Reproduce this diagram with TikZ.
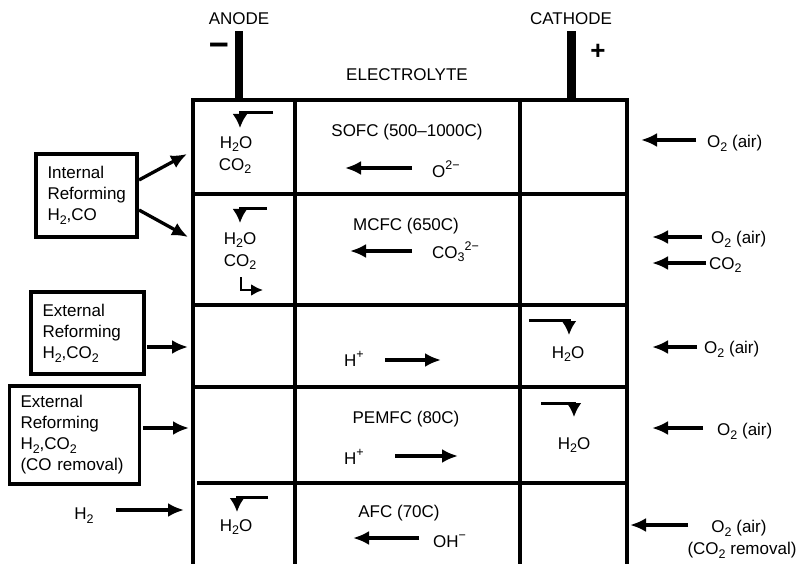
\documentclass[tikz,border=0pt]{standalone}
\usepackage{fontspec}
\setmainfont{Liberation Sans}
\usetikzlibrary{arrows.meta}
\newcommand\sbs[1]{\raisebox{-0.22em}{\fontsize{12.5}{12.5}\selectfont #1}}
\newcommand\sps[1]{\raisebox{0.45em}{\fontsize{12.5}{12.5}\selectfont #1}}
\begin{document}
\begin{tikzpicture}[x=1pt,y=-1pt,
  every node/.style={font=\fontsize{17}{21}\selectfont, inner sep=0pt},
  grid/.style={line width=3.3pt},
  arr/.style={line width=3.3pt, -{Latex[length=16pt,width=14pt]}},
  hook/.style={line width=3pt, -{Latex[length=14pt,width=15pt]}},
  fbox/.style={draw, line width=3.3pt, align=left, inner xsep=10pt},
  elec/.style={fill=black}]
\useasboundingbox (0,0) rectangle (803,564);
% grid
\draw[grid] (193,564) -- (193,100) -- (627,100) -- (627,564);
\draw[grid] (295,100) -- (295,564);
\draw[grid] (520,100) -- (520,564);
\draw[grid] (193,194) -- (627,194);
\draw[grid] (193,305) -- (627,305);
\draw[grid] (193,387) -- (627,387);
\draw[grid] (197,483) -- (627,483);
% electrodes
\fill[elec] (235,31) rectangle (243,100);
\fill[elec] (567,31) rectangle (576,100);
\node (anode) at (239,19) {ANODE};
\node (cathode) at (571,19) {CATHODE};
\node[anchor=base] (minus) at (219,56) {\smash{\scalebox{1.35}[1.5]{\fontsize{26}{26}\selectfont\bfseries –}}};
\node (plus) at (598,52) {\fontsize{26}{26}\selectfont\bfseries +};
\node (electrolyte) at (407,75) {ELECTROLYTE};
% row 1 SOFC
\coordinate (h1a) at (273,113); \coordinate (h1b) at (240,113); \coordinate (h1c) at (240,128);
\draw[hook] (h1a) -- (h1b) -- (h1c);
\node (w1) at (236,144) {H\sbs{2}O};
\node (c1) at (235,166) {CO\sbs{2}};
\node (sofc) at (407,132) {SOFC (500–1000C)};
\node[anchor=west] (o2m) at (432,169) {O\sps{2−}};
\coordinate (s1a) at (412,168); \coordinate (s1b) at (345,168);
\draw[arr] (s1a) -- (s1b);
\coordinate (r1a) at (696,140); \coordinate (r1b) at (641,140);
\draw[arr] (r1a) -- (r1b);
\node[anchor=west] (air1) at (707,143) {O\sbs{2} (air)};
% row 2 MCFC
\coordinate (h2a) at (267,209); \coordinate (h2b) at (240,209); \coordinate (h2c) at (240,223);
\draw[hook] (h2a) -- (h2b) -- (h2c);
\node (w2) at (240,240) {H\sbs{2}O};
\node (c2) at (240,262) {CO\sbs{2}};
\coordinate (l2a) at (241,277); \coordinate (l2b) at (241,290); \coordinate (l2c) at (263,290);
\draw[line width=2.8pt, -{Latex[length=12pt,width=12pt]}] (l2a) -- (l2b) -- (l2c);
\node (mcfc) at (406,226) {MCFC (650C)};
\coordinate (s2a) at (412,251); \coordinate (s2b) at (350,251);
\draw[arr] (s2a) -- (s2b);
\node[anchor=west] (co3) at (432,252) {CO\sbs{3}\sps{2−}};
\coordinate (r2a) at (702,237); \coordinate (r2b) at (652,237);
\draw[arr] (r2a) -- (r2b);
\node[anchor=west] (air2) at (711,239) {O\sbs{2} (air)};
\coordinate (r2c) at (706,263); \coordinate (r2d) at (652,263);
\draw[arr] (r2c) -- (r2d);
\node[anchor=west] (co2r) at (709,265) {CO\sbs{2}};
% internal reforming
\node[fbox, minimum width=101pt, minimum height=83pt, text width=78pt] (intref) at (86.5,195.5) {Internal\\Reforming\\H\sbs{2},CO};
\coordinate (ia) at (139,180); \coordinate (ib) at (187,154);
\coordinate (ic) at (139,210); \coordinate (id) at (188,237);
\draw[arr] (ia) -- (ib);
\draw[arr] (ic) -- (id);
% row 3
\node[fbox, minimum width=113pt, minimum height=82pt, text width=90pt] (extref1) at (87.5,333) {External\\Reforming\\H\sbs{2},CO\sbs{2}};
\coordinate (e1a) at (147,347); \coordinate (e1b) at (188,347);
\draw[arr] (e1a) -- (e1b);
\node (hp1) at (354,359) {H\sps{+}};
\coordinate (p1a) at (385,360); \coordinate (p1b) at (441,360);
\draw[arr] (p1a) -- (p1b);
\coordinate (h3a) at (529,320); \coordinate (h3b) at (569,320); \coordinate (h3c) at (569,335);
\draw[hook] (h3a) -- (h3b) -- (h3c);
\node (w3) at (568,354) {H\sbs{2}O};
\coordinate (r3a) at (697,347); \coordinate (r3b) at (652,347);
\draw[arr] (r3a) -- (r3b);
\node[anchor=west] (air3) at (704,349) {O\sbs{2} (air)};
% row 4 PEMFC
\node[fbox, minimum width=130pt, minimum height=98pt, text width=108pt] (extref2) at (74.5,435) {External\\Reforming\\H\sbs{2},CO\sbs{2}\\(CO removal)};
\coordinate (e2a) at (143,428); \coordinate (e2b) at (189,428);
\draw[arr] (e2a) -- (e2b);
\node (pemfc) at (406,419) {PEMFC (80C)};
\node (hp2) at (354,457) {H\sps{+}};
\coordinate (p2a) at (395,456); \coordinate (p2b) at (458,456);
\draw[arr] (p2a) -- (p2b);
\coordinate (h4a) at (541,403); \coordinate (h4b) at (574,403); \coordinate (h4c) at (574,417);
\draw[hook] (h4a) -- (h4b) -- (h4c);
\node (w4) at (574,445) {H\sbs{2}O};
\coordinate (r4a) at (703,428); \coordinate (r4b) at (652,428);
\draw[arr] (r4a) -- (r4b);
\node[anchor=west] (air4) at (717,431) {O\sbs{2} (air)};
% row 5 AFC
\node (h2) at (84,516) {H\sbs{2}};
\coordinate (ha) at (116,510); \coordinate (hb) at (184,510);
\draw[arr] (ha) -- (hb);
\coordinate (h5a) at (268,497); \coordinate (h5b) at (237,497); \coordinate (h5c) at (237,512);
\draw[hook] (h5a) -- (h5b) -- (h5c);
\node (w5) at (236,527) {H\sbs{2}O};
\node (afc) at (399,513) {AFC (70C)};
\coordinate (s5a) at (419,538); \coordinate (s5b) at (353,538);
\draw[arr] (s5a) -- (s5b);
\node[anchor=west] (ohm) at (433,541) {OH\sps{−}};
\coordinate (r5a) at (688,525); \coordinate (r5b) at (630,525);
\draw[arr] (r5a) -- (r5b);
\node (air5) at (739,528) {O\sbs{2} (air)};
\node (co2rem) at (742,550) {(CO\sbs{2} removal)};
\end{tikzpicture}
\end{document}
